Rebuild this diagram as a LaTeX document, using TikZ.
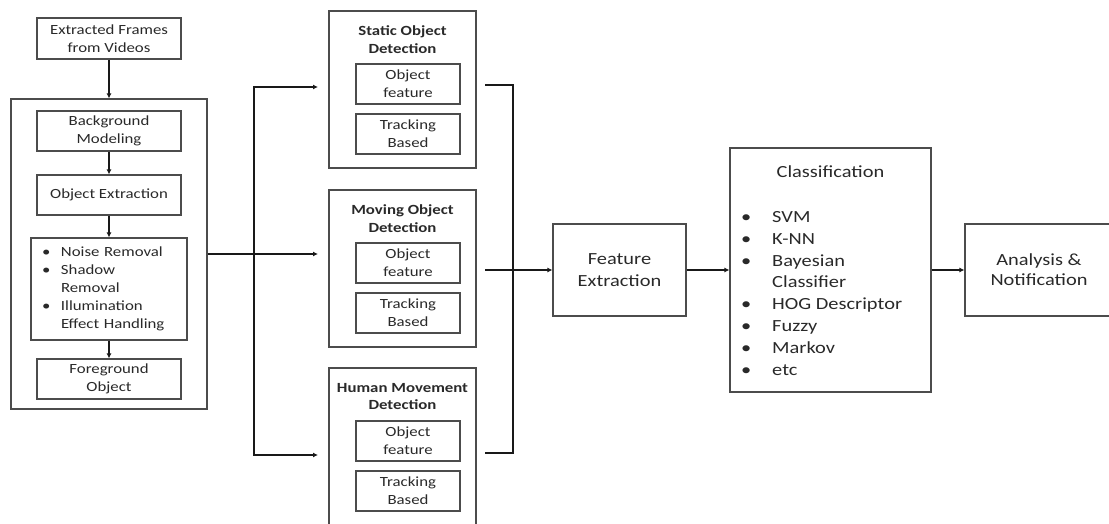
\documentclass[tikz,border=0pt]{standalone}
\usepackage{fontspec}
\setmainfont{Carlito}[FakeStretch=1.2]
\usetikzlibrary{arrows.meta}
\definecolor{ink}{gray}{0.10}
\definecolor{frame}{gray}{0.30}
\definecolor{lettering}{gray}{0.16}
\newcommand\smalltype{\fontsize{14}{17.8}\selectfont}
\newcommand\bigtype{\fontsize{17}{21.8}\selectfont}
\tikzset{
  box/.style={draw=frame, line width=1.1pt, inner sep=0pt, align=center, text=lettering, font=\smalltype},
  bigbox/.style={box, font=\bigtype},
  wire/.style={ink, line width=1.3pt},
  flow/.style={wire, -{Latex[length=5pt,width=5pt]}},
}

\begin{document}
\begin{tikzpicture}[x=1pt,y=-1pt]
  \useasboundingbox (0,0) rectangle (1109,524);
  \clip (0,0) rectangle (1109,524);
  % preprocessing column
  \node[box, minimum width=144pt, minimum height=41pt] (frames) at (109,38.5) {Extracted Frames\\from Videos};
  \node[box, minimum width=196pt, minimum height=310pt] (pre) at (109,254) {};
  \node[box, minimum width=144pt, minimum height=40pt] (bgm) at (109,131) {Background\\Modeling};
  \node[box, minimum width=144pt, minimum height=40pt] (objext) at (109,195) {Object Extraction};
  \node[box, minimum width=156pt, minimum height=102pt, text width=134pt, align=left] (noise) at (109,289)
    {\begin{tabular}{@{}l@{}l@{}}
      \makebox[19pt][l]{\textbullet} & Noise Removal\\
      \textbullet & Shadow\\
                  & Removal\\
      \textbullet & Illumination\\
                  & Effect Handling
    \end{tabular}};
  \node[box, minimum width=144pt, minimum height=40pt] (fgobj) at (109,379) {Foreground\\Object};
  \draw[flow] (frames) -- (pre);
  \draw[flow] (bgm) -- (objext);
  \draw[flow] (objext) -- (noise);
  \draw[flow] (noise) -- (fgobj);

  % detection boxes
  \foreach \name/\y/\lbl in {static/89.5/Static Object,moving/268.5/Moving Object,human/446.5/Human Movement}{
    \node[box, minimum width=147pt, minimum height=157pt] (\name) at (402.5,\y) {};
    \node[font=\smalltype\bfseries, text=lettering, align=center, inner sep=0pt] (\name-title) at (402.5,\y-50) {\lbl\\Detection};
    \node[box, minimum width=104pt, minimum height=40pt] (\name-feat) at (408,\y-5.5) {Object\\feature};
    \node[box, minimum width=104pt, minimum height=40pt] (\name-track) at (408,\y+44.5) {Tracking\\Based};
  }

  % fork into the detectors
  \coordinate (fork) at (254,254);
  \coordinate (tipS) at (318,87);
  \coordinate (tipM) at (318,254);
  \coordinate (tipH) at (318,455);
  \draw[flow] (pre.east) -- (tipM);
  \draw[flow] (fork) |- (tipS);
  \draw[flow] (fork) |- (tipH);

  % collect the detectors
  \coordinate (joinS) at (485,85);
  \coordinate (joinM) at (485,270);
  \coordinate (joinH) at (485,453);
  \coordinate (bus) at (513,270);
  \draw[wire] (joinS) -| (bus) |- (joinH);

  % feature extraction, classification, analysis
  \node[bigbox, minimum width=133pt, minimum height=92pt] (fe) at (619.5,270) {Feature\\Extraction};
  \node[bigbox, minimum width=201pt, minimum height=244pt] (cls) at (830.5,270) {};
  \node[font=\bigtype, text=lettering, inner sep=0pt] (cls-title) at (830.5,172) {Classification};
  \node[font=\bigtype, text=lettering, inner sep=0pt, anchor=north west] (cls-list) at (741,207)
    {\begin{tabular}{@{}l@{}l@{}}
      \makebox[31pt][l]{\textbullet} & SVM\\
      \textbullet & K-NN\\
      \textbullet & Bayesian\\
                  & Classifier\\
      \textbullet & HOG Descriptor\\
      \textbullet & Fuzzy\\
      \textbullet & Markov\\
      \textbullet & etc
    \end{tabular}};
  \node[bigbox, minimum width=148pt, minimum height=92pt] (ana) at (1039,270) {Analysis \&\\[-2pt]Notification};
  \draw[flow] (joinM) -- (fe);
  \draw[flow] (fe) -- (cls);
  \draw[flow] (cls) -- (ana);
\end{tikzpicture}
\end{document}
